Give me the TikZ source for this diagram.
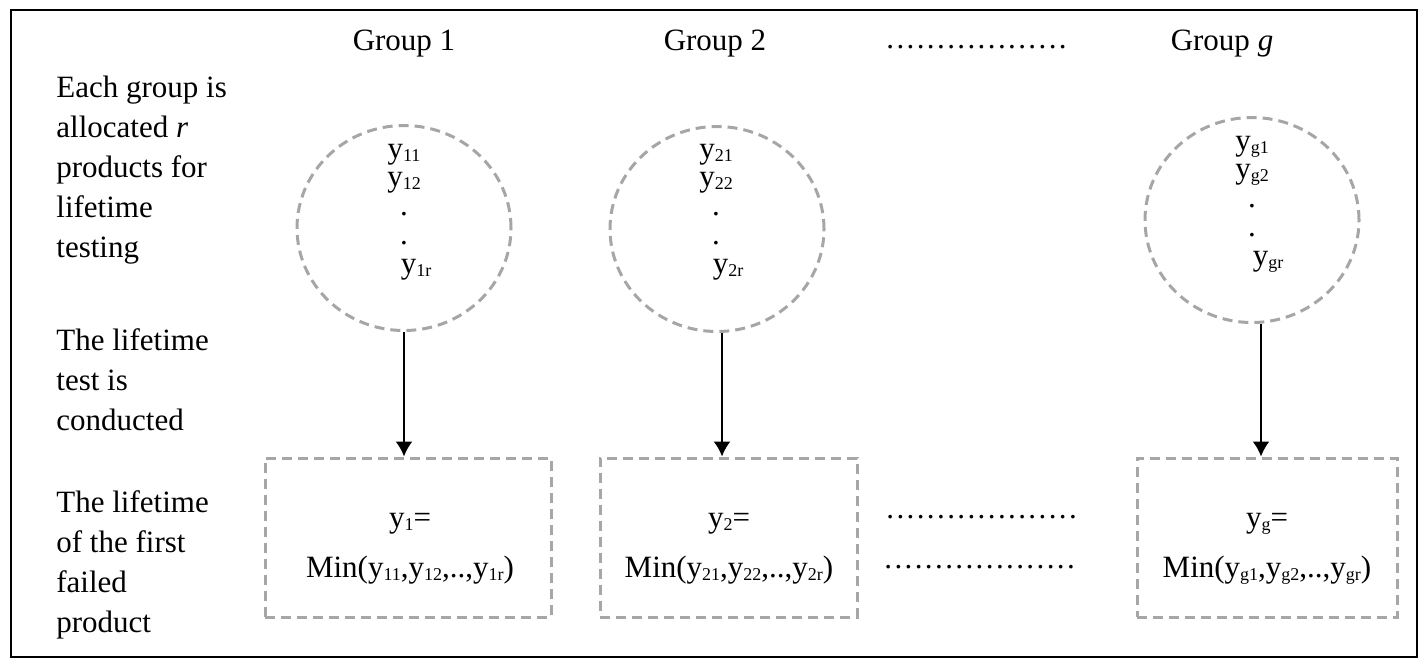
\documentclass[tikz,border=0pt]{standalone}
\usepackage{fontspec}
\setmainfont{Liberation Serif}
\usepackage{tikz}
\usetikzlibrary{arrows.meta, shapes.geometric}
\tikzset{>=latex}
\definecolor{mygray}{RGB}{166, 166, 166}
\newcommand{\sbs}[1]{\raisebox{-1.5pt}{\fontsize{9pt}{10pt}\selectfont #1}}
\newcommand{\dotrow}[1]{\foreach \i in {1,...,#1}{.\kern1.2pt}}
\tikzset{
  grpell/.style = {ellipse, draw = mygray, line width = 1.5pt, dash pattern = on 5pt off 3pt, inner sep = 0pt, minimum width = 107pt, minimum height = 102.5pt},
  minbox/.style = {rectangle, draw = mygray, line width = 1.5pt, dash pattern = on 5pt off 3pt, minimum height = 79.5pt},
  yvals/.style = {align = center, inner sep = 0pt, font = \fontsize{15.5pt}{14.4pt}\selectfont},
  mintxt/.style = {align = center, inner sep = 0pt, font = \fontsize{15.5pt}{25pt}\selectfont},
  lbl/.style = {anchor = base west, align = left, inner sep = 0pt},
  flowarr/.style = {-{Latex[length = 7.5pt, width = 8.5pt]}, line width = 1pt}
}

\begin{document}
\begin{tikzpicture}[x = 0.5pt, y = -0.5pt, font = \fontsize{15.5pt}{20pt}\selectfont]
\useasboundingbox (0,0) rectangle (1427,666);
\draw[line width = 1pt] (11,10) rectangle (1417,657);
% row labels (base = last line)
\node[lbl] (lblalloc) at (56,257) {Each group is\\allocated \textit{r}\\products for\\lifetime\\testing};
\node[lbl] (lbltest) at (56,430) {The lifetime\\test is\\conducted};
\node[lbl] (lblfirst) at (56,632) {The lifetime\\of the first\\failed\\product};
% group headers
\node[anchor = base, inner sep = 0pt] (g1) at (404,50) {Group 1};
\node[anchor = base, inner sep = 0pt] (g2) at (715,50) {Group 2};
\node[anchor = base west, inner sep = 0pt] (gdots) at (886,48) {\dotrow{18}};
\node[anchor = base, inner sep = 0pt] (g3) at (1222,50) {Group \textit{g}};
% ellipses
\node[grpell] (e1) at (404,228) {};
\node[grpell] (e2) at (717,229) {};
\node[grpell] (e3) at (1252,220) {};
\node[yvals] (t1) at (404,212) {y\sbs{11}\\y\sbs{12}\\.\\.\\\hspace*{12pt}y\sbs{1r}};
\node[yvals] (t2) at (716,212) {y\sbs{21}\\y\sbs{22}\\.\\.\\\hspace*{12pt}y\sbs{2r}};
\node[yvals] (t3) at (1252,204) {y\sbs{g1}\\y\sbs{g2}\\.\\.\\\hspace*{16pt}y\sbs{gr}};
% boxes
\node[minbox, minimum width = 143pt] (b1) at (408,537.5) {};
\node[minbox, minimum width = 128.5pt] (b2) at (728.5,537.5) {};
\node[minbox, minimum width = 130pt] (b3) at (1267,537.5) {};
\node[mintxt] (m1) at (410,549) {y\sbs{1}=\\Min(y\sbs{11},y\sbs{12},..,y\sbs{1r})};
\node[mintxt] (m2) at (729,549) {y\sbs{2}=\\Min(y\sbs{21},y\sbs{22},..,y\sbs{2r})};
\node[mintxt] (m3) at (1267,549) {y\sbs{g}=\\Min(y\sbs{g1},y\sbs{g2},..,y\sbs{gr})};
\node[anchor = base west, inner sep = 0pt] (mdots1) at (886,518) {\dotrow{19}};
\node[anchor = base west, inner sep = 0pt] (mdots2) at (884,568) {\dotrow{19}};
% arrows
\draw[flowarr] (e1.south) -- (e1.south |- b1.north);
\draw[flowarr] ([xshift = 2.5pt]e2.south) -- ([xshift = 2.5pt]e2.south |- b2.north);
\draw[flowarr] ([xshift = 4.5pt]e3.south) -- ([xshift = 4.5pt]e3.south |- b3.north);
\end{tikzpicture}
\end{document}
